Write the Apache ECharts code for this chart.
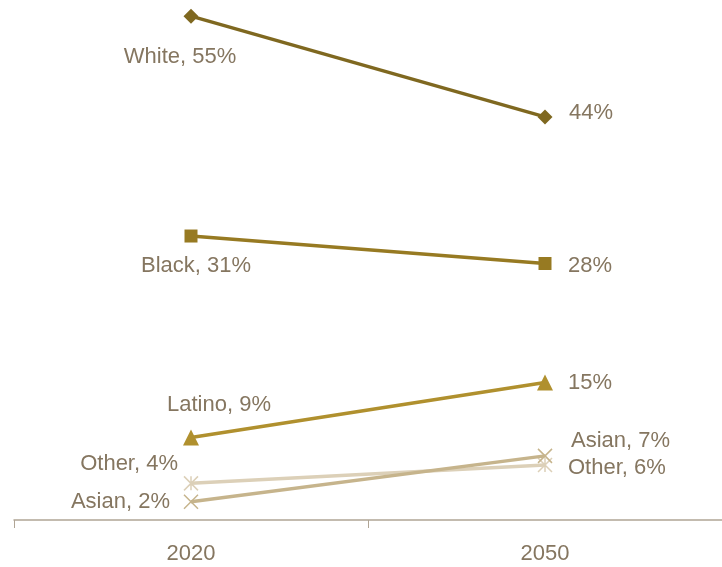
<!DOCTYPE html>
<html><head><meta charset="utf-8">
<script src="https://cdn.jsdelivr.net/npm/echarts@6/dist/echarts.min.js"></script>
<style>html,body{margin:0;padding:0;background:#fff}#c{width:722px;height:567px}</style>
</head><body><div id="c"></div>
<script>
const years = ['2020', '2050'];
const groups = ['Other', 'Asian', 'Latino', 'Black', 'White'];
const other = [4, 6];
const asian = [2, 7];
const latino = [9, 15];
const black = [31, 28];
const white = [55, 44];
const labelsStart = ['Other, 4%', 'Asian, 2%', 'Latino, 9%', 'Black, 31%', 'White, 55%'];
const labelsEnd = ['Other, 6%', 'Asian, 7%', '15%', '28%', '44%'];

const values = [other, asian, latino, black, white];
const colors = ['#dcd0b8', '#c6b48c', '#b0902e', '#977a22', '#7f6820'];
const X = 'path://M0,0L10,10M10,0L0,10';
const STAR = 'path://M0,0L10,10M10,0L0,10M5,0L5,10';
const symbols = [STAR, X, 'triangle', 'rect', 'diamond'];
const symSizes = [14, 14, 16, 13, 15];
// label placement [align, dx, dy] for start and end points
const place = [
  [['right', -13, -19], ['left', 23, 3]],
  [['right', -21, 0], ['left', 26, -15]],
  [['center', 28, -33], ['left', 23, 0]],
  [['center', 5, 30], ['left', 23, 2]],
  [['center', -11, 41], ['left', 24, -4]]
];
const FONT = "'Liberation Sans Narrow','Arial Narrow','Liberation Sans',Arial,sans-serif";

const series = groups.map((g, i) => ({
  name: g,
  type: 'line',
  data: values[i].map((v, j) => {
    const p = place[i][j];
    return {
      value: v,
      label: {
        show: true,
        position: 'inside',
        align: p[0],
        verticalAlign: 'middle',
        offset: [p[1], p[2]],
        formatter: j === 0 ? labelsStart[i] : labelsEnd[i]
      }
    };
  }),
  symbol: symbols[i],
  symbolSize: symSizes[i],
  showAllSymbol: true,
  lineStyle: { color: colors[i], width: 3.5 },
  itemStyle: { color: colors[i], borderColor: colors[i], borderWidth: (i < 2 ? 1.5 : 0) },
  label: { color: '#857660', fontSize: 22, fontFamily: FONT },
  emphasis: { disabled: true },
  z: i + 2,
  animation: false
}));

const chart = echarts.init(document.getElementById('c'));
chart.setOption({
  animation: false,
  grid: { left: 14, right: -2, top: 7, bottom: 47 },
  xAxis: {
    type: 'category',
    data: years,
    boundaryGap: true,
    axisLine: { lineStyle: { color: '#b0a595', width: 1.5 } },
    axisTick: { show: true, length: 8, lineStyle: { color: '#b0a595' } },
    axisLabel: { color: '#857660', fontSize: 22, fontFamily: FONT, margin: 23 }
  },
  yAxis: {
    type: 'value', min: 0, max: 56, show: false,
    splitLine: { show: false }
  },
  series: series
});
</script>
</body></html>
